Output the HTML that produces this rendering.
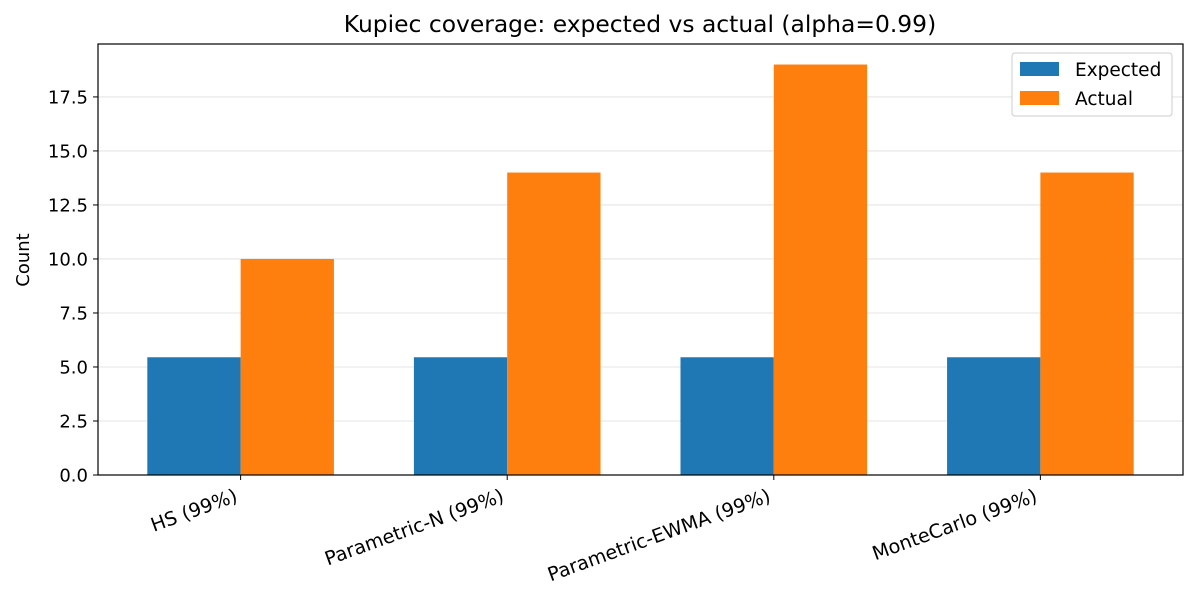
<!DOCTYPE html>
<html><head><meta charset="utf-8"><style>
body{margin:0;background:#fff;}
svg text{font-family:"DejaVu Sans","Liberation Sans",sans-serif;fill:#000;}
</style></head><body>
<svg id="chart" width="1196" height="602">
<text x="640" y="32" text-anchor="middle" font-size="23.4">Kupiec coverage: expected vs actual (alpha=0.99)</text>
<g id="grid"></g><g id="bars"></g><g id="axes"></g>
<text transform="translate(29,260) rotate(-90)" text-anchor="middle" font-size="18">Count</text>
<g>
<rect x="1012" y="53" width="160" height="63" rx="3" fill="#fff" stroke="#ccc"/>
<rect x="1020" y="62" width="39" height="14" fill="#1f77b4"/>
<text x="1075" y="76" font-size="18.5">Expected</text>
<rect x="1020" y="91" width="39" height="14" fill="#ff7f0e"/>
<text x="1075" y="105" font-size="18.5">Actual</text>
</g>
</svg>
<script>
const categories=["HS (99%)","Parametric-N (99%)","Parametric-EWMA (99%)","MonteCarlo (99%)"];
const expected=[5.45,5.45,5.45,5.45];
const actual=[10,14,19,14];
const yTicks=[0,2.5,5,7.5,10,12.5,15,17.5];
const L=98,R=1183,T=44,B=475,ymax=19.95,xmin=-0.535,xmax=3.535,w=0.35;
const sx=v=>L+(v-xmin)/(xmax-xmin)*(R-L);
const sy=v=>B-v/ymax*(B-T);
const NS="http://www.w3.org/2000/svg";
function mk(p,t,a){const e=document.createElementNS(NS,t);for(const k in a)e.setAttribute(k,a[k]);p.appendChild(e);return e;}
const grid=document.getElementById('grid'),bars=document.getElementById('bars'),axes=document.getElementById('axes');
yTicks.forEach(v=>{
 const g=mk(grid,'line',{x1:L,x2:R,y1:sy(v),y2:sy(v),stroke:'#ddd','stroke-width':0.8});
 
 
 mk(axes,'line',{x1:L-5,x2:L,y1:sy(v),y2:sy(v),stroke:'#000'});
 const t=mk(axes,'text',{x:L-10,y:sy(v)+6.5,'text-anchor':'end','font-size':18});
 t.textContent=v.toFixed(1);
 
 
});
categories.forEach((c,i)=>{
 const b1=mk(bars,'rect',{x:sx(i-w),y:sy(expected[i]),width:sx(i)-sx(i-w),height:B-sy(expected[i]),fill:'#1f77b4'});
 
 
 const b2=mk(bars,'rect',{x:sx(i),y:sy(actual[i]),width:sx(i+w)-sx(i),height:B-sy(actual[i]),fill:'#ff7f0e'});
 
 
 mk(axes,'line',{x1:sx(i),x2:sx(i),y1:B,y2:B+5,stroke:'#000'});
 const t=mk(axes,'text',{transform:`translate(${sx(i)-2},${B+26}) rotate(-20)`,'text-anchor':'end','font-size':19.2});
 t.textContent=c;
 
 
});
const f=mk(axes,'rect',{x:L,y:T,width:R-L,height:B-T,fill:'none',stroke:'#000','stroke-width':1.2});


</script>
</body></html>
